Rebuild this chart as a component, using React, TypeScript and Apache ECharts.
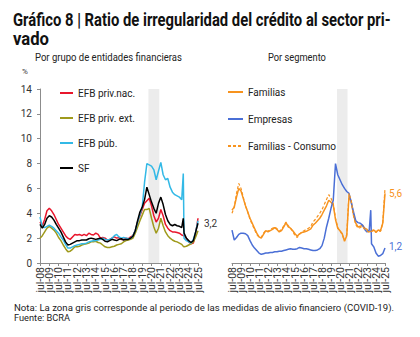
import React, { useEffect, useRef } from "react";
import * as echarts from "echarts";

// x positions: months since jul-08
const months = [
  0, 3, 6, 9, 12, 15, 18, 21, 24, 27,
  30, 33, 36, 39, 42, 45, 48, 51, 54, 57,
  60, 63, 66, 69, 72, 75, 78, 81, 84, 87,
  90, 93, 96, 99, 102, 105, 108, 111, 114, 117,
  120, 123, 126, 129, 132, 135, 138, 141, 144, 147,
  150, 153, 156, 159, 162, 165, 168, 171, 174, 177,
  180,
  183, 185, 186, 189, 192, 195, 198, 201, 204,
];

const tickLabels = [
  "jul-08", "jul-09", "jul-10", "jul-11", "jul-12", "jul-13", "jul-14", "jul-15", "jul-16",
  "jul-17", "jul-18", "jul-19", "jul-20", "jul-21", "jul-22", "jul-23", "jul-24", "jul-25",
];

const efbPrivNac = [
  3.3, 3.0, 3.5, 4.2, 4.4, 4.2, 3.9, 3.5, 3.1, 2.8,
  2.5, 2.2, 2.0, 1.9, 2.1, 2.3, 2.25, 2.3, 2.2, 2.3,
  2.2, 2.4, 2.3, 2.25, 2.4, 2.3, 2.0, 2.05, 2.0, 1.85,
  1.9, 2.0, 2.1, 2.0, 2.05, 1.9, 1.9, 2.0, 1.95, 2.1,
  2.2, 2.6, 3.3, 3.8, 4.3, 4.8, 5.0, 5.2, 4.6, 3.8,
  3.3, 3.6, 4.3, 3.8, 3.1, 2.8, 2.6, 2.5, 2.5, 2.45,
  2.4,
  2.25, 2.2, 2.2, 2.0, 1.7, 1.55, 1.6, 2.4, 3.6,
];

const efbPrivExt = [
  2.0, 2.2, 2.5, 2.8, 2.95, 2.8, 2.65, 2.4, 2.05, 1.8,
  1.45, 1.15, 0.9, 0.95, 1.1, 1.3, 1.3, 1.35, 1.45, 1.5,
  1.55, 1.6, 1.7, 1.7, 1.75, 1.65, 1.6, 1.45, 1.3, 1.25,
  1.25, 1.3, 1.35, 1.45, 1.5, 1.55, 1.7, 1.8, 1.85, 1.9,
  2.0, 2.4, 2.9, 3.4, 3.85, 4.3, 4.3, 4.4, 3.6, 2.9,
  2.4, 2.8, 3.6, 3.0, 2.5, 2.2, 2.0, 1.85, 1.75, 1.7,
  1.6,
  1.5, 1.35, 1.3, 1.35, 1.45, 1.55, 1.7, 2.1, 2.6,
];

const efbPub = [
  3.7, 2.9, 2.85, 2.95, 3.05, 2.95, 2.8, 2.6, 2.4, 2.1,
  1.85, 1.5, 1.2, 1.2, 1.3, 1.4, 1.45, 1.5, 1.55, 1.55,
  1.6, 1.7, 1.75, 1.8, 1.8, 1.85, 1.9, 2.0, 1.9, 1.85,
  1.9, 2.0, 2.2, 2.3, 2.1, 2.0, 2.05, 2.0, 1.95, 2.0,
  2.2, 2.6, 3.3, 3.9, 4.5, 6.5, 8.0, 7.9, 7.8, 7.5,
  6.7, 7.4, 8.1, 7.1, 6.7, 6.8, 6.1, 5.7, 5.5, 5.4,
  5.3,
  5.1, 7.2, 2.0, 1.8, 1.7, 1.6, 1.9, 2.5, 3.4,
];

const sf = [
  3.1, 2.8, 3.1, 3.6, 3.8, 3.7, 3.45, 3.1, 2.8, 2.5,
  2.1, 1.7, 1.45, 1.5, 1.6, 1.7, 1.8, 1.8, 1.85, 1.85,
  1.85, 1.95, 2.0, 1.95, 1.9, 1.95, 2.0, 1.9, 1.75, 1.7,
  1.8, 1.9, 1.85, 1.8, 1.9, 1.95, 1.85, 1.9, 1.9, 2.0,
  2.15, 2.6, 3.4, 4.1, 4.5, 5.1, 6.1, 5.5, 4.9, 4.4,
  4.0, 4.8, 5.3, 4.7, 3.9, 3.4, 3.1, 3.0, 3.1, 3.0,
  2.95,
  2.85, 3.6, 2.4, 2.0, 1.8, 1.65, 1.8, 2.5, 3.2,
];

const familias = [
  4.25, 4.5, 5.3, 6.0, 5.8, 5.2, 4.6, 4.1, 3.6, 3.2,
  2.8, 2.4, 2.1, 2.0, 2.3, 2.6, 2.5, 2.6, 2.7, 2.85,
  2.7, 2.5, 2.6, 2.9, 3.25, 2.9, 2.8, 2.6, 2.35, 2.15,
  2.35, 2.45, 2.5, 2.55, 2.65, 2.75, 3.05, 3.2, 3.4, 3.6,
  3.9, 4.25, 4.6, 5.05, 4.9, 4.65, 3.5, 2.8, 2.6, 2.35,
  1.75, 2.2, 5.4, 4.9, 3.9, 3.2, 2.9, 2.95, 3.05, 2.8,
  2.7,
  2.5, 2.55, 2.6, 2.65, 2.5, 2.65, 2.6, 3.2, 5.6,
];

const empresas = [
  2.65, 1.85, 2.05, 2.3, 2.4, 2.4, 2.35, 2.2, 1.8, 1.45,
  1.2, 1.0, 0.8, 0.7, 0.75, 0.8, 0.8, 0.85, 0.85, 0.9,
  0.9, 0.95, 0.95, 1.0, 1.05, 1.1, 1.15, 1.1, 1.1, 1.15,
  1.25, 1.2, 1.15, 1.15, 1.1, 1.05, 1.0, 1.0, 1.05, 1.15,
  1.4, 2.0, 2.9, 3.6, 4.4, 5.05, 8.0, 7.1, 6.7, 6.3,
  6.0, 5.75, 5.6, 4.9, 4.1, 3.4, 3.25, 3.2, 3.05, 2.7,
  2.5,
  2.65, 4.25, 1.55, 1.3, 0.8, 0.55, 0.6, 0.75, 1.2,
];

const familiasConsumo = [
  4.0, 4.5, 5.6, 6.4, 6.0, 5.3, 4.6, 4.1, 3.5, 3.1,
  2.7, 2.3, 2.1, 2.05, 2.4, 2.6, 2.55, 2.7, 2.8, 2.9,
  2.75, 2.55, 2.7, 3.0, 3.3, 3.0, 2.8, 2.55, 2.2, 2.05,
  2.3, 2.5, 2.6, 2.7, 2.8, 2.95, 3.3, 3.5, 3.75, 4.0,
  4.3, 4.7, 5.1, 5.5, 5.2, 4.8, 3.6, 2.85, 2.55, 2.3,
  1.8, 2.3, 5.6, 5.0, 3.8, 3.1, 2.8, 2.85, 2.95, 2.7,
  2.6,
  2.45, 2.5, 2.55, 2.6, 2.45, 2.6, 2.55, 3.2, 6.0,
];

// COVID relief period (months since jul-08)
const reliefPeriod = [140, 154];

const FONT = "Roboto, 'Noto Sans', sans-serif";

function measure(text: string, font: string): number {
  const c = document.createElement("canvas");
  const ctx = c.getContext("2d");
  if (!ctx) return 0;
  ctx.font = font;
  return ctx.measureText(text).width;
}

function fitText(text: string, x: number, y: number, size: number, weight: string, target: number, fill: string) {
  const font = `${weight} ${size}px Roboto`;
  const w = measure(text, font);
  const s = w > 0 ? target / w : 1;
  return {
    type: "text",
    x,
    y,
    scaleX: s,
    style: {
      text,
      x: 0,
      y: 0,
      fill,
      font: `${weight} ${size}px ${FONT}`,
      verticalAlign: "middle",
      align: "left",
    },
  };
}

const pairs = (vals: number[]) => vals.map((v, i) => [months[i], v]);
const fmt = (v: number) => v.toFixed(1).replace(".", ",");

export default function App() {
  const ref = useRef<HTMLDivElement>(null);
  useEffect(() => {
    if (!ref.current) return;
    const chart = echarts.init(ref.current, null, { renderer: "svg" });
    // hidden value axes that place the data
    const xValue = (gi: number) => ({
      type: "value",
      gridIndex: gi,
      position: "bottom",
      min: 0,
      max: 204,
      interval: 12,
      show: false,
    });
    // visible yearly category axes carrying the tick labels
    const xLabels = (gi: number) => ({
      type: "category",
      gridIndex: gi,
      position: "bottom",
      data: tickLabels,
      boundaryGap: false,
      axisLine: { show: true, onZero: false, lineStyle: { color: "#8c8c8c", width: 1 } },
      axisTick: { show: true, length: 3, interval: 0, lineStyle: { color: "#8c8c8c" } },
      splitLine: { show: false },
      axisLabel: {
        interval: 0,
        rotate: 90,
        margin: 4,
        fontSize: 10.5,
        fontFamily: FONT,
        color: "#333",
      },
    });
    const lineBase = {
      type: "line",
      showSymbol: false,
      symbol: "none",
      smooth: false,
    };
    const band = {
      silent: true,
      itemStyle: { color: "#ececec" },
      data: [[{ xAxis: reliefPeriod[0] }, { xAxis: reliefPeriod[1] }]],
    };
    const legendText = { fontSize: 10, color: "#222", fontFamily: FONT };
    chart.setOption({
      animation: false,
      textStyle: { fontFamily: FONT },
      grid: [
        { left: 40, top: 89, width: 158, height: 174 },
        { left: 232, top: 89, width: 153, height: 174 },
      ],
      xAxis: [xValue(0), xValue(1), xLabels(0), xLabels(1)],
      yAxis: [
        {
          type: "value",
          gridIndex: 0,
          min: 0,
          max: 14,
          interval: 2,
          axisLine: { show: true, lineStyle: { color: "#8c8c8c" } },
          axisTick: { show: true, length: 3, lineStyle: { color: "#8c8c8c" } },
          splitLine: { show: false },
          axisLabel: { fontSize: 10, color: "#333", margin: 8, fontFamily: FONT },
        },
        { type: "value", gridIndex: 1, min: 0, max: 14, interval: 2, show: false },
      ],
      legend: [
        {
          orient: "vertical",
          left: 54,
          top: 83,
          itemGap: 15,
          itemWidth: 13,
          itemHeight: 8,
          itemStyle: { opacity: 0 },
          data: ["EFB priv.nac.", "EFB priv. ext.", "EFB púb.", "SF"],
          textStyle: legendText,
        },
        {
          orient: "vertical",
          left: 222,
          top: 82,
          itemGap: 17,
          itemWidth: 15,
          itemHeight: 8,
          itemStyle: { opacity: 0 },
          data: ["Familias", "Empresas", "Familias - Consumo"],
          textStyle: legendText,
        },
      ],
      series: [
        { ...lineBase, name: "band0", xAxisIndex: 0, yAxisIndex: 0, data: [], markArea: band },
        { ...lineBase, name: "band1", xAxisIndex: 1, yAxisIndex: 1, data: [], markArea: band },
        {
          ...lineBase, name: "EFB priv.nac.", xAxisIndex: 0, yAxisIndex: 0, data: pairs(efbPrivNac),
          lineStyle: { color: "#e8162c", width: 1.5 }, itemStyle: { color: "#e8162c" },
        },
        {
          ...lineBase, name: "EFB priv. ext.", xAxisIndex: 0, yAxisIndex: 0, data: pairs(efbPrivExt),
          lineStyle: { color: "#9f9a1c", width: 1.5 }, itemStyle: { color: "#9f9a1c" },
        },
        {
          ...lineBase, name: "EFB púb.", xAxisIndex: 0, yAxisIndex: 0, data: pairs(efbPub),
          lineStyle: { color: "#33b9e6", width: 1.5 }, itemStyle: { color: "#33b9e6" },
        },
        {
          ...lineBase, name: "SF", xAxisIndex: 0, yAxisIndex: 0, data: pairs(sf),
          lineStyle: { color: "#000", width: 1.5 }, itemStyle: { color: "#000" },
          endLabel: {
            show: true, distance: 6, fontSize: 10, color: "#333", fontFamily: FONT,
            formatter: (p: any) => fmt(p.value[1]),
          },
        },
        {
          ...lineBase, name: "Familias", xAxisIndex: 1, yAxisIndex: 1, data: pairs(familias),
          lineStyle: { color: "#f7931e", width: 1.5 }, itemStyle: { color: "#f7931e" },
          endLabel: {
            show: true, distance: 4, fontSize: 10, color: "#f7931e", fontFamily: FONT,
            formatter: (p: any) => fmt(p.value[1]),
          },
        },
        {
          ...lineBase, name: "Empresas", xAxisIndex: 1, yAxisIndex: 1, data: pairs(empresas),
          lineStyle: { color: "#4a6fd6", width: 1.5 }, itemStyle: { color: "#4a6fd6" },
          endLabel: {
            show: true, distance: 4, fontSize: 10, color: "#4a6fd6", fontFamily: FONT, offset: [0, -2],
            formatter: (p: any) => fmt(p.value[1]),
          },
        },
        {
          ...lineBase, name: "Familias - Consumo", xAxisIndex: 1, yAxisIndex: 1, data: pairs(familiasConsumo),
          lineStyle: { color: "#f7931e", width: 1.2, type: [3, 2] }, itemStyle: { color: "#f7931e" },
        },
      ],
      graphic: [
        fitText("Gráfico 8 | Ratio de irregularidad del crédito al sector pri-", 13, 20.5, 17.5, "bold", 378, "#111"),
        fitText("vado", 13, 39, 17.5, "bold", 36, "#111"),
        fitText("Por grupo de entidades financieras", 35, 57, 10.3, "normal", 147, "#222"),
        fitText("Por segmento", 268, 57, 10.3, "normal", 58, "#222"),
        { type: "text", x: 22, y: 71, style: { text: "%", fill: "#333", font: `normal 8px ${FONT}`, verticalAlign: "middle" } },
        fitText("Nota: La zona gris corresponde al periodo de las medidas de alivio financiero (COVID-19).", 14, 307.5, 9.4, "normal", 379, "#222"),
        fitText("Fuente: BCRA", 14, 317.5, 9.4, "normal", 56, "#222"),
      ],
    });
    return () => chart.dispose();
  }, []);
  return <div ref={ref} style={{ width: 420, height: 337, position: "absolute", left: 0, top: 0 }} />;
}
